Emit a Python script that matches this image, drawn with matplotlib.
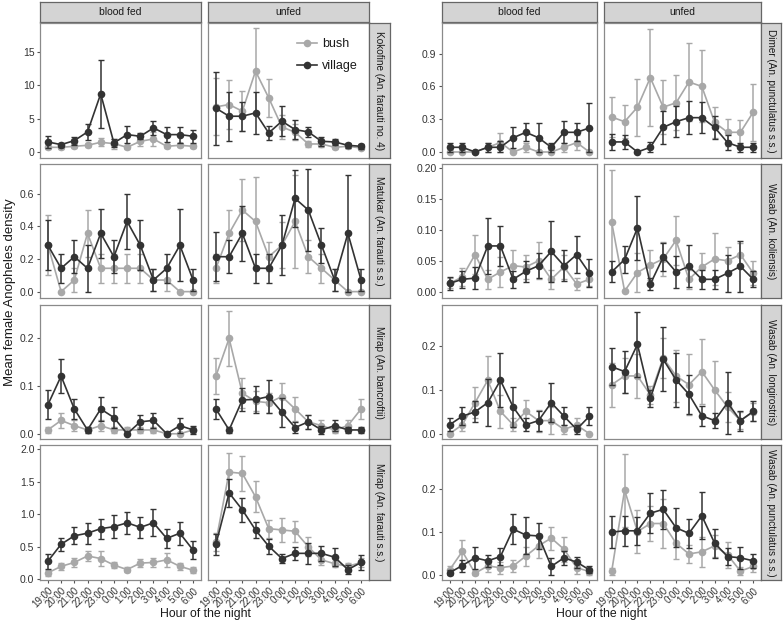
import matplotlib
matplotlib.use("Agg")
import matplotlib.pyplot as plt
import numpy as np
from matplotlib.lines import Line2D

plt.rcParams["font.family"] = ["Liberation Sans", "DejaVu Sans"]

hours = ["19:00", "20:00", "21:00", "22:00", "23:00", "0:00", "1:00", "2:00",
         "3:00", "4:00", "5:00", "6:00"]
feeding = ["blood fed", "unfed"]
habitats = ["bush", "village"]

# ---- Kokofine (An. farauti no. 4) ----
kok_bf_village = [1.5, 1.1, 1.7, 3.0, 8.7, 1.35, 2.6, 2.35, 3.6, 2.6, 2.6, 2.35]
kok_bf_village_se = [0.85, 0.3, 0.6, 1.2, 5.1, 0.6, 1.3, 0.45, 1.1, 1.1, 1.2, 0.95]
kok_bf_bush = [0.7, 0.7, 0.85, 1.0, 1.45, 1.25, 0.7, 1.6, 1.95, 0.85, 1.0, 0.85]
kok_bf_bush_se = [0.2, 0.2, 0.25, 0.3, 0.6, 0.75, 0.2, 0.75, 1.0, 0.25, 0.3, 0.25]
kok_un_village = [6.55, 5.35, 5.35, 5.85, 2.85, 4.6, 3.35, 3.0, 1.6, 1.5, 1.0, 0.85]
kok_un_village_se = [5.45, 3.65, 2.2, 3.15, 1.05, 2.25, 1.45, 0.8, 0.65, 0.45, 0.4, 0.35]
kok_un_bush = [6.75, 7.1, 6.1, 12.1, 8.1, 3.75, 2.95, 1.2, 1.2, 0.7, 0.85, 0.6]
kok_un_bush_se = [4.25, 3.65, 3.0, 6.4, 2.85, 1.75, 1.2, 0.4, 0.4, 0.25, 0.3, 0.2]

# ---- Matukar (An. farauti s.s.) ----
mat_bf_village = [0.284, 0.143, 0.214, 0.143, 0.357, 0.214, 0.43, 0.284, 0.071, 0.143, 0.284, 0.071]
mat_bf_village_se = [0.154, 0.09, 0.1, 0.143, 0.15, 0.1, 0.17, 0.154, 0.068, 0.09, 0.22, 0.068]
mat_bf_bush = [0.284, 0.0, 0.071, 0.357, 0.143, 0.143, 0.143, 0.143, 0.071, 0.071, 0.0, 0.0]
mat_bf_bush_se = [0.185, 0.0, 0.071, 0.143, 0.09, 0.09, 0.09, 0.09, 0.068, 0.068, 0.0, 0.0]
mat_un_village = [0.214, 0.214, 0.357, 0.143, 0.143, 0.284, 0.571, 0.5, 0.284, 0.071, 0.357, 0.071]
mat_un_village_se = [0.15, 0.1, 0.17, 0.09, 0.09, 0.185, 0.175, 0.25, 0.107, 0.068, 0.36, 0.068]
mat_un_bush = [0.143, 0.357, 0.5, 0.43, 0.214, 0.284, 0.43, 0.214, 0.143, 0.071, 0.0, 0.0]
mat_un_bush_se = [0.09, 0.143, 0.19, 0.27, 0.09, 0.14, 0.285, 0.1, 0.09, 0.068, 0.0, 0.0]

# ---- Mirap (An. bancroftii) ----
mba_bf_village = [0.061, 0.121, 0.052, 0.008, 0.052, 0.034, 0.0, 0.025, 0.028, 0.0, 0.017, 0.008]
mba_bf_village_se = [0.03, 0.036, 0.021, 0.007, 0.025, 0.022, 0.0, 0.014, 0.015, 0.0, 0.016, 0.008]
mba_bf_bush = [0.008, 0.028, 0.017, 0.008, 0.017, 0.008, 0.008, 0.008, 0.008, 0.0, 0.0, 0.008]
mba_bf_bush_se = [0.007, 0.015, 0.012, 0.007, 0.012, 0.007, 0.007, 0.007, 0.007, 0.0, 0.0, 0.007]
mba_un_village = [0.052, 0.008, 0.071, 0.072, 0.078, 0.045, 0.013, 0.025, 0.008, 0.017, 0.008, 0.008]
mba_un_village_se = [0.021, 0.007, 0.024, 0.028, 0.035, 0.03, 0.012, 0.014, 0.008, 0.012, 0.007, 0.007]
mba_un_bush = [0.121, 0.2, 0.085, 0.068, 0.065, 0.078, 0.052, 0.025, 0.017, 0.008, 0.017, 0.052]
mba_un_bush_se = [0.037, 0.057, 0.031, 0.021, 0.021, 0.028, 0.025, 0.014, 0.012, 0.007, 0.012, 0.021]

# ---- Mirap (An. farauti s.s.) ----
mfa_bf_village = [0.28, 0.54, 0.67, 0.71, 0.78, 0.81, 0.87, 0.8, 0.87, 0.63, 0.71, 0.45]
mfa_bf_village_se = [0.115, 0.1, 0.13, 0.16, 0.155, 0.18, 0.165, 0.165, 0.21, 0.14, 0.18, 0.14]
mfa_bf_bush = [0.1, 0.2, 0.26, 0.36, 0.32, 0.22, 0.15, 0.25, 0.26, 0.3, 0.2, 0.14]
mfa_bf_bush_se = [0.045, 0.055, 0.065, 0.075, 0.11, 0.05, 0.04, 0.06, 0.065, 0.105, 0.055, 0.045]
mfa_un_village = [0.54, 1.33, 1.07, 0.76, 0.51, 0.32, 0.4, 0.4, 0.4, 0.34, 0.15, 0.26]
mfa_un_village_se = [0.16, 0.22, 0.185, 0.125, 0.115, 0.075, 0.095, 0.165, 0.11, 0.14, 0.065, 0.11]
mfa_un_bush = [0.58, 1.65, 1.63, 1.27, 0.78, 0.76, 0.74, 0.5, 0.3, 0.24, 0.2, 0.26]
mfa_un_bush_se = [0.14, 0.3, 0.27, 0.24, 0.14, 0.18, 0.165, 0.145, 0.08, 0.05, 0.045, 0.065]

# ---- Dimer (An. punctulatus s.s.) ----
dim_bf_village = [0.043, 0.043, 0.0, 0.043, 0.043, 0.13, 0.18, 0.13, 0.043, 0.18, 0.18, 0.22]
dim_bf_village_se = [0.042, 0.042, 0.0, 0.042, 0.055, 0.097, 0.083, 0.137, 0.042, 0.1, 0.083, 0.225]
dim_bf_bush = [0.0, 0.0, 0.0, 0.043, 0.086, 0.0, 0.043, 0.0, 0.0, 0.043, 0.086, 0.0]
dim_bf_bush_se = [0.0, 0.0, 0.0, 0.042, 0.09, 0.0, 0.042, 0.0, 0.0, 0.042, 0.065, 0.0]
dim_un_village = [0.092, 0.092, 0.0, 0.043, 0.225, 0.277, 0.314, 0.314, 0.225, 0.086, 0.043, 0.043]
dim_un_village_se = [0.075, 0.065, 0.0, 0.045, 0.15, 0.14, 0.15, 0.14, 0.105, 0.065, 0.042, 0.042]
dim_un_bush = [0.32, 0.277, 0.41, 0.68, 0.41, 0.45, 0.64, 0.6, 0.27, 0.18, 0.18, 0.365]
dim_un_bush_se = [0.185, 0.15, 0.26, 0.445, 0.25, 0.25, 0.36, 0.33, 0.14, 0.125, 0.11, 0.26]

# ---- Wasab (An. koliensis) ----
wko_bf_village = [0.0134, 0.02, 0.022, 0.074, 0.074, 0.02, 0.033, 0.042, 0.065, 0.042, 0.06, 0.03]
wko_bf_village_se = [0.011, 0.014, 0.018, 0.045, 0.033, 0.014, 0.017, 0.02, 0.05, 0.025, 0.03, 0.023]
wko_bf_bush = [0.0134, 0.024, 0.06, 0.02, 0.032, 0.042, 0.04, 0.05, 0.02, 0.04, 0.0124, 0.02]
wko_bf_bush_se = [0.008, 0.015, 0.031, 0.015, 0.024, 0.025, 0.02, 0.03, 0.015, 0.02, 0.01, 0.011]
wko_un_village = [0.032, 0.052, 0.103, 0.0124, 0.056, 0.032, 0.041, 0.02, 0.02, 0.03, 0.041, 0.02]
wko_un_village_se = [0.017, 0.022, 0.051, 0.01, 0.023, 0.026, 0.034, 0.015, 0.015, 0.03, 0.041, 0.013]
wko_un_bush = [0.112, 0.001, 0.031, 0.043, 0.053, 0.083, 0.02, 0.04, 0.053, 0.05, 0.06, 0.03]
wko_un_bush_se = [0.084, 0.002, 0.032, 0.024, 0.028, 0.04, 0.015, 0.022, 0.042, 0.022, 0.018, 0.019]

# ---- Wasab (An. longirostris) ----
wlo_bf_village = [0.0205, 0.04, 0.05, 0.071, 0.122, 0.061, 0.0205, 0.03, 0.071, 0.04, 0.01, 0.04]
wlo_bf_village_se = [0.015, 0.02, 0.024, 0.054, 0.062, 0.045, 0.015, 0.023, 0.045, 0.02, 0.01, 0.02]
wlo_bf_bush = [0.0, 0.0205, 0.071, 0.122, 0.051, 0.0205, 0.051, 0.03, 0.03, 0.01, 0.02, 0.0]
wlo_bf_bush_se = [0.0, 0.015, 0.035, 0.055, 0.037, 0.015, 0.027, 0.025, 0.031, 0.01, 0.015, 0.0]
wlo_un_village = [0.153, 0.142, 0.204, 0.081, 0.17, 0.123, 0.09, 0.041, 0.03, 0.071, 0.03, 0.051]
wlo_un_village_se = [0.042, 0.048, 0.075, 0.02, 0.073, 0.062, 0.045, 0.023, 0.017, 0.071, 0.023, 0.023]
wlo_un_bush = [0.112, 0.132, 0.132, 0.089, 0.173, 0.132, 0.112, 0.142, 0.1, 0.061, 0.03, 0.05]
wlo_un_bush_se = [0.05, 0.04, 0.05, 0.02, 0.045, 0.06, 0.07, 0.075, 0.065, 0.035, 0.02, 0.02]

# ---- Wasab (An. punctulatus s.s.) ----
wpu_bf_village = [0.0054, 0.022, 0.04, 0.033, 0.043, 0.107, 0.093, 0.091, 0.02, 0.04, 0.03, 0.012]
wpu_bf_village_se = [0.006, 0.014, 0.025, 0.014, 0.02, 0.035, 0.043, 0.03, 0.02, 0.017, 0.013, 0.008]
wpu_bf_bush = [0.012, 0.055, 0.004, 0.021, 0.017, 0.021, 0.044, 0.068, 0.086, 0.06, 0.017, 0.008]
wpu_bf_bush_se = [0.008, 0.027, 0.003, 0.014, 0.014, 0.014, 0.022, 0.028, 0.027, 0.029, 0.014, 0.007]
wpu_un_village = [0.1, 0.103, 0.103, 0.144, 0.153, 0.11, 0.097, 0.138, 0.074, 0.043, 0.04, 0.033]
wpu_un_village_se = [0.038, 0.035, 0.032, 0.046, 0.045, 0.045, 0.033, 0.055, 0.034, 0.02, 0.025, 0.016]
wpu_un_bush = [0.009, 0.198, 0.101, 0.12, 0.12, 0.074, 0.049, 0.054, 0.068, 0.047, 0.009, 0.02]
wpu_un_bush_se = [0.008, 0.085, 0.05, 0.04, 0.058, 0.037, 0.02, 0.035, 0.025, 0.031, 0.01, 0.012]

left_rows = [
    ("Kokofine (An. farauti no. 4)",
     [(kok_bf_bush, kok_bf_bush_se, kok_bf_village, kok_bf_village_se),
      (kok_un_bush, kok_un_bush_se, kok_un_village, kok_un_village_se)],
     (-0.9, 19.3), [0, 5, 10, 15], "{:.0f}"),
    ("Matukar (An. farauti s.s.)",
     [(mat_bf_bush, mat_bf_bush_se, mat_bf_village, mat_bf_village_se),
      (mat_un_bush, mat_un_bush_se, mat_un_village, mat_un_village_se)],
     (-0.039, 0.782), [0.0, 0.2, 0.4, 0.6], "{:.1f}"),
    ("Mirap (An. bancroftii)",
     [(mba_bf_bush, mba_bf_bush_se, mba_bf_village, mba_bf_village_se),
      (mba_un_bush, mba_un_bush_se, mba_un_village, mba_un_village_se)],
     (-0.011, 0.27), [0.0, 0.1, 0.2], "{:.1f}"),
    ("Mirap (An. farauti s.s.)",
     [(mfa_bf_bush, mfa_bf_bush_se, mfa_bf_village, mfa_bf_village_se),
      (mfa_un_bush, mfa_un_bush_se, mfa_un_village, mfa_un_village_se)],
     (-0.01, 2.067), [0.0, 0.5, 1.0, 1.5, 2.0], "{:.1f}"),
]
right_rows = [
    ("Dimer (An. punctulatus s.s.)",
     [(dim_bf_bush, dim_bf_bush_se, dim_bf_village, dim_bf_village_se),
      (dim_un_bush, dim_un_bush_se, dim_un_village, dim_un_village_se)],
     (-0.055, 1.18), [0.0, 0.3, 0.6, 0.9], "{:.1f}"),
    ("Wasab (An. koliensis)",
     [(wko_bf_bush, wko_bf_bush_se, wko_bf_village, wko_bf_village_se),
      (wko_un_bush, wko_un_bush_se, wko_un_village, wko_un_village_se)],
     (-0.0102, 0.2065), [0.0, 0.05, 0.10, 0.15, 0.20], "{:.2f}"),
    ("Wasab (An. longirostris)",
     [(wlo_bf_bush, wlo_bf_bush_se, wlo_bf_village, wlo_bf_village_se),
      (wlo_un_bush, wlo_un_bush_se, wlo_un_village, wlo_un_village_se)],
     (-0.012, 0.294), [0.0, 0.1, 0.2], "{:.1f}"),
    ("Wasab (An. punctulatus s.s.)",
     [(wpu_bf_bush, wpu_bf_bush_se, wpu_bf_village, wpu_bf_village_se),
      (wpu_un_bush, wpu_un_bush_se, wpu_un_village, wpu_un_village_se)],
     (-0.0117, 0.303), [0.0, 0.1, 0.2], "{:.1f}"),
]

W, H = 784, 633
fig = plt.figure(figsize=(W / 100, H / 100), dpi=100)
fig.patch.set_facecolor("white")

BUSH = "#A8A8A8"
VILL = "#333333"
BORDER = "#8A8A8A"
STRIP_FILL = "#D4D4D4"
STRIP_EDGE = "#666666"
TXT = "#333333"

def add_ax(x0, x1, y0, y1):
    return fig.add_axes([x0 / W, 1 - y1 / H, (x1 - x0) / W, (y1 - y0) / H])

row_y = [(23, 158), (164, 298), (305, 439), (445, 580)]
groups = [
    (left_rows, [(40, 201), (208, 369)], (369, 390)),
    (right_rows, [(442, 597), (604, 761)], (761, 781)),
]
x = np.arange(len(hours))

def strip(x0, x1, y0, y1, text, rot=0, size=7.5):
    s = add_ax(x0, x1, y0, y1)
    s.set_facecolor(STRIP_FILL)
    s.set_xticks([]); s.set_yticks([])
    for sp in s.spines.values():
        sp.set_color(STRIP_EDGE); sp.set_linewidth(0.9)
    s.text(0.5, 0.5, text, rotation=rot, ha="center", va="center",
           fontsize=size, color="#1A1A1A", transform=s.transAxes)

def draw_series(ax, mean, se, color, z):
    mean = np.array(mean); se = np.array(se)
    lo = np.minimum(se, mean)
    ax.errorbar(x, mean, yerr=[lo, se], fmt="none", ecolor=color,
                elinewidth=1.1, capsize=2.2, capthick=1.0, zorder=z)
    ax.plot(x, mean, color=color, lw=1.2, marker="o", ms=5.5,
            markeredgewidth=0, zorder=z + 0.5)

legend_ax = None
for rows, cols, sx in groups:
    for ci, (cx0, cx1) in enumerate(cols):
        strip(cx0, cx1, 2, 22, feeding[ci])
    for ri, (label, panels, ylim, yticks, fmt) in enumerate(rows):
        y0, y1 = row_y[ri]
        for ci, (cx0, cx1) in enumerate(cols):
            ax = add_ax(cx0, cx1, y0, y1)
            bush, bush_se, vill, vill_se = panels[ci]
            draw_series(ax, bush, bush_se, BUSH, 2)
            draw_series(ax, vill, vill_se, VILL, 3)
            ax.set_xlim(-0.6, 11.6)
            ax.set_ylim(*ylim)
            for sp in ax.spines.values():
                sp.set_color(BORDER); sp.set_linewidth(0.9)
            ax.tick_params(length=2.5, width=0.8, color="#555555",
                           labelsize=7.5, labelcolor=TXT, pad=1.5)
            ax.set_xticks(x)
            if ri == 3:
                ax.set_xticklabels(hours, rotation=45, ha="right",
                                   rotation_mode="anchor", fontsize=7.0)
            else:
                ax.tick_params(axis="x", length=0, labelbottom=False)
            ax.set_yticks(yticks)
            if ci == 0:
                ax.set_yticklabels([fmt.format(v) for v in yticks])
            else:
                ax.tick_params(axis="y", length=0, labelleft=False)
            if rows is left_rows and ri == 0 and ci == 1:
                legend_ax = ax
        strip(sx[0], sx[1], y0, y1, label, rot=-90, size=7.2)

handles = [Line2D([0], [0], color=BUSH, lw=1.2, marker="o", ms=5.5, mew=0),
           Line2D([0], [0], color=VILL, lw=1.2, marker="o", ms=5.5, mew=0)]
legend_ax.legend(handles, habitats, loc="upper right",
                 bbox_to_anchor=(1.0, 0.97), frameon=False, fontsize=9,
                 handlelength=1.6, handletextpad=0.4, labelspacing=0.8,
                 labelcolor="#1A1A1A")

fig.text(10 / W, 1 - 292 / H, "Mean female Anopheles density", rotation=90,
         ha="center", va="center", fontsize=9.5, color="#1A1A1A")
fig.text(205 / W, 1 - 614 / H, "Hour of the night", ha="center", va="center",
         fontsize=8.8, color="#1A1A1A")
fig.text(601 / W, 1 - 614 / H, "Hour of the night", ha="center", va="center",
         fontsize=8.8, color="#1A1A1A")

fig.savefig("out.png", dpi=100)
